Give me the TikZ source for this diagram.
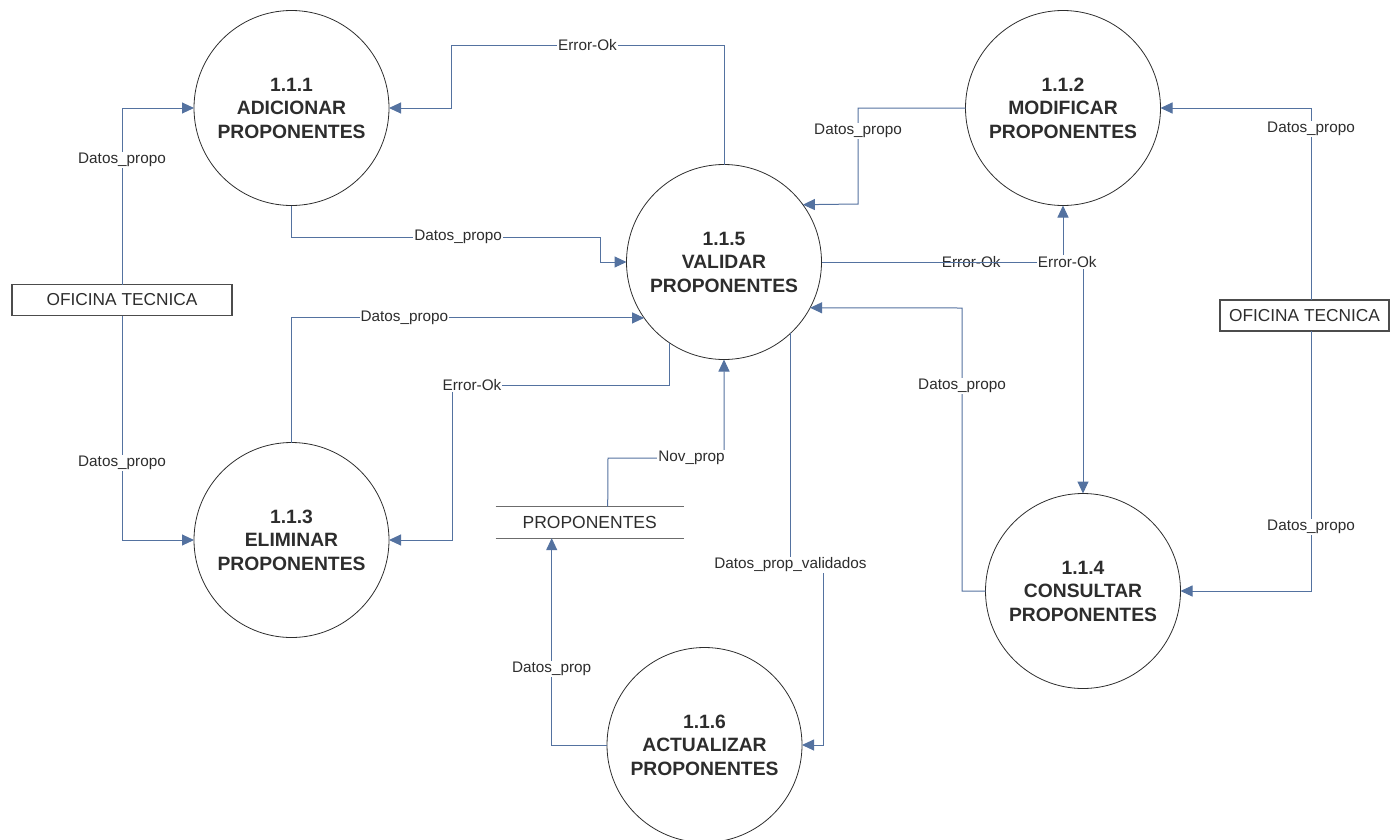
\documentclass[tikz,border=0pt]{standalone}
\usepackage{fontspec}
\setmainfont{Liberation Sans}
\usetikzlibrary{arrows.meta}
\definecolor{flujo}{RGB}{84,114,160}
\definecolor{texto}{RGB}{45,45,45}
\begin{document}
\begin{tikzpicture}[x=1pt,y=-1pt,
  proc/.style={circle,draw=texto,line width=0.8pt,minimum size=195pt,inner sep=0pt,outer sep=0pt,align=center,text=texto,font=\fontsize{19.3}{23.5}\selectfont\bfseries},
  ext/.style={draw=texto!85,line width=1.2pt,minimum height=31pt,inner sep=0pt,outer sep=0pt,text=texto,font=\fontsize{17.3}{20}\selectfont},
  flow/.style={draw=flujo,line width=1pt,-{Triangle[length=12pt,width=11pt]}},
  lbl/.style={fill=white,inner sep=1pt,text=texto,font=\fontsize{15.3}{17}\selectfont}]
\useasboundingbox (0,0) rectangle (1390,839);
\node[proc] (c1) at (291.5,108) {1.1.1\\ADICIONAR\\PROPONENTES};
\node[proc] (c2) at (1063,108) {1.1.2\\MODIFICAR\\PROPONENTES};
\node[proc] (c3) at (291.5,540) {1.1.3\\ELIMINAR\\PROPONENTES};
\node[proc] (c4) at (1083,591) {1.1.4\\CONSULTAR\\PROPONENTES};
\node[proc] (c5) at (724,262) {1.1.5\\VALIDAR\\PROPONENTES};
\node[proc] (c6) at (704.5,745) {1.1.6\\ACTUALIZAR\\PROPONENTES};
\node[ext,minimum width=220pt] (ot1) at (122,300) {OFICINA TECNICA};
\node[ext,minimum width=169pt] (ot2) at (1304.5,315.5) {OFICINA TECNICA};
\node[minimum width=188pt,minimum height=31.5pt,inner sep=0pt,outer sep=0pt,text=texto,font=\fontsize{17.5}{20}\selectfont] (store) at (589.7,522.4) {PROPONENTES};
\draw[texto!70,line width=1.2pt] (store.north west) -- (store.north east) (store.south west) -- (store.south east);

\draw[flow] (ot1.north) |- (c1.west) node[lbl,pos=0.352]{Datos\_propo};
\draw[flow] (ot1.south) |- (c3.west) node[lbl,pos=0.329]{Datos\_propo};
\draw[flow] (c5.north) -- (724,45) -- (451,45) node[lbl,midway]{Error-Ok} -- (451,108) -- (c1.east);
\draw[flow] (c1.south) |- (600,237) node[lbl,pos=0.77]{Datos\_propo} |- (c5.west);
\draw[flow] (c2.west) -| (858,204) node[lbl,pos=0.62]{Datos\_propo} -- (c5.36.7);
\draw[flow] ([xshift=6.5pt]ot2.north) |- (c2.east) node[lbl,pos=0.445]{Datos\_propo};
\draw[flow] ([xshift=6.5pt]ot2.south) |- (c4.east) node[lbl,pos=0.377]{Datos\_propo};
\draw[flow] (c5.east) -| (c2.south) node[lbl,pos=0.31]{Error-Ok};
\draw[flow] (c5.east) -| (c4.north) node[lbl,pos=0.47]{Error-Ok};
\draw[flow] (c4.west) -| (962,308) node[lbl,pos=0.862]{Datos\_propo} -- (c5.-28.3);
\draw[flow] (c3.north) |- (c5.215.3) node[lbl,pos=0.66]{Datos\_propo};
\draw[flow] (c5.236.9) |- (452,385) node[lbl,pos=0.954]{Error-Ok} |- (c3.east);
\draw[flow] ([xshift=18pt]store.north) -- (608,458) -| (c5.south) node[lbl,pos=0.36]{Nov\_prop};
\draw[flow] (c5.313.7) |- (823,565) node[lbl,pos=0.5]{Datos\_prop\_validados} |- (c6.east);
\draw[flow] (c6.west) -| ([xshift=-38pt]store.south) node[lbl,pos=0.684]{Datos\_prop};
\end{tikzpicture}
\end{document}
